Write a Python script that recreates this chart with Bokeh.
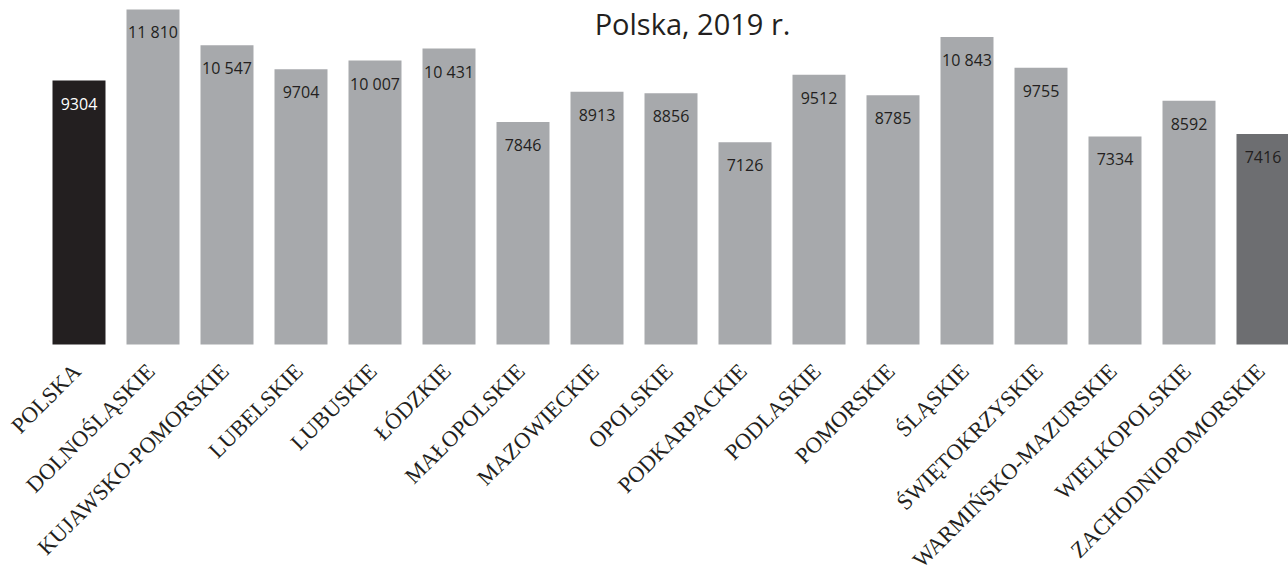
from bokeh.plotting import figure
from bokeh.models import ColumnDataSource, Range1d, Label
from bokeh.core.properties import value
from bokeh.embed import file_html
from bokeh.resources import INLINE
import math

regions = ["POLSKA", "DOLNOŚLĄSKIE", "KUJAWSKO-POMORSKIE", "LUBELSKIE", "LUBUSKIE",
           "ŁÓDZKIE", "MAŁOPOLSKIE", "MAZOWIECKIE", "OPOLSKIE", "PODKARPACKIE",
           "PODLASKIE", "POMORSKIE", "ŚLĄSKIE", "ŚWIĘTOKRZYSKIE",
           "WARMIŃSKO-MAZURSKIE", "WIELKOPOLSKIE", "ZACHODNIOPOMORSKIE"]
values = [9304, 11810, 10547, 9704, 10007, 10431, 7846, 8913, 8856, 7126,
          9512, 8785, 10843, 9755, 7334, 8592, 7416]
value_labels = ["9304", "11 810", "10 547", "9704", "10 007", "10 431", "7846", "8913",
                "8856", "7126", "9512", "8785", "10 843", "9755", "7334", "8592", "7416"]
title_text = "Polska, 2019 r."

W, H = 1288, 577
xs = list(range(len(regions)))
bar_colors = ["#231f20"] + ["#a7a9ac"] * (len(regions) - 2) + ["#6d6e71"]
label_colors = ["#ffffff"] + ["#231f20"] * (len(regions) - 1)

src = ColumnDataSource(dict(x=xs, top=values, region=regions, lab=value_labels,
                            bc=bar_colors, lc=label_colors, zero=[0] * len(xs)))

x_start = -1.0608
x_end = x_start + W / 74.0
units_per_px = 35.25
y_top = 344 * units_per_px
y_bot = -(H - 344) * units_per_px

p = figure(width=W, height=H, output_backend="svg", toolbar_location=None,
           x_range=Range1d(x_start, x_end), y_range=Range1d(y_bot, y_top),
           min_border=0, min_border_left=0, min_border_right=0,
           min_border_top=0, min_border_bottom=0)
p.axis.visible = False
p.grid.visible = False
p.outline_line_color = None
p.background_fill_color = "white"
p.border_fill_color = "white"

p.vbar(x="x", top="top", bottom=0, width=53 / 74.0, fill_color="bc", line_color=None, source=src)

p.text(x="x", y="top", text="lab", source=src, text_align="center", text_baseline="middle",
       y_offset=23, text_font=value("Open Sans"), text_font_size="16px", text_color="lc")

p.text(x="x", y="zero", text="region", source=src, text_align="right", text_baseline="middle",
       angle=math.pi / 4, x_offset=-2, y_offset=23, text_font=value("Liberation Serif"),
       text_font_size="22.5px", text_color="#231f20")

title = Label(x=692, y=H - 23, x_units="screen", y_units="screen", text=title_text,
              text_align="center", text_baseline="alphabetic", text_font="Open Sans",
              text_font_size="29px", text_color="#231f20")
p.add_layout(title)

open("out.html", "w").write(file_html(p, INLINE))
